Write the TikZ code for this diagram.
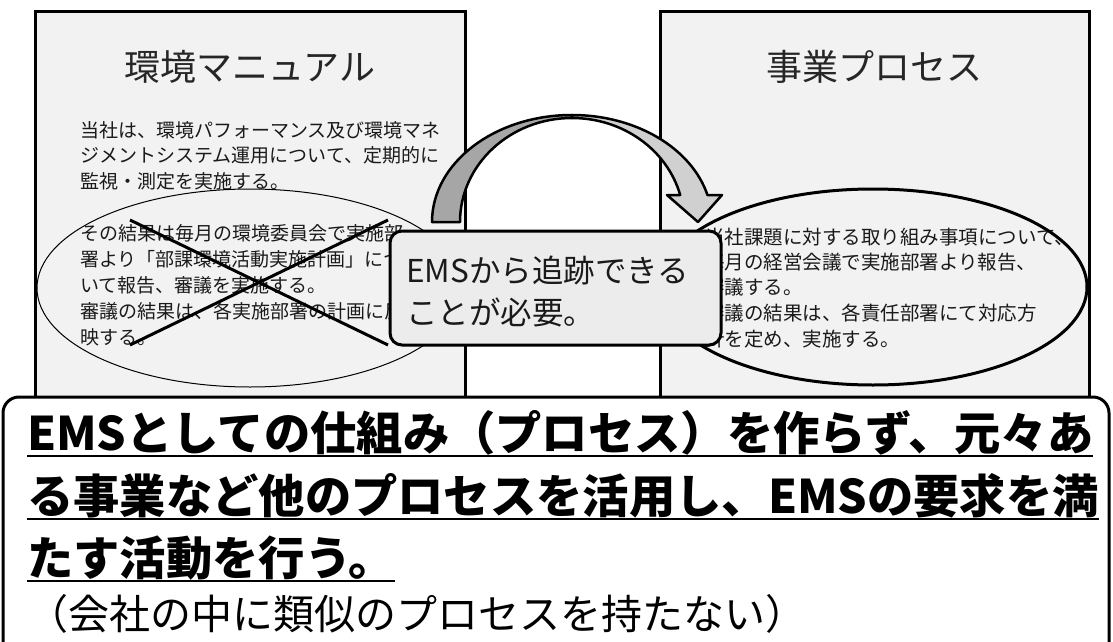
\documentclass[tikz,border=0pt]{standalone}
\usepackage{fontspec}
\setmainfont{Noto Sans CJK JP}
\definecolor{boxfill}{HTML}{F2F2F2}
\definecolor{callfill}{HTML}{ECECEC}
\definecolor{arrdark}{HTML}{A6A6A6}
\definecolor{arrlight}{HTML}{D0D0D0}
\definecolor{txt}{HTML}{1A1A1A}
\definecolor{titlec}{HTML}{262626}
\newsavebox\ulbox
\newcommand\ulin[1]{\sbox\ulbox{#1}\rlap{\rule[-7.4pt]{\wd\ulbox}{2.8pt}}\usebox\ulbox}
\tikzset{
  docbox/.style={draw=black, line width=3pt, fill=boxfill},
  titletext/.style={font=\fontsize{36}{40}\selectfont, text=titlec, inner sep=0pt, anchor=center},
  bodyL/.style={font=\fontsize{19}{24}\selectfont, text=txt, inner sep=0pt, anchor=west},
  bodyR/.style={font=\fontsize{19.5}{24}\selectfont, text=txt, inner sep=0pt, anchor=west},
  calltext/.style={font=\fontsize{31.5}{36}\selectfont, text=txt, inner sep=0pt, anchor=west},
  boldline/.style={font=\fontsize{46.3}{50}\selectfont\bfseries, text=black, inner sep=0pt, anchor=base west},
  noteline/.style={font=\fontsize{41}{46}\selectfont, text=black, inner sep=0pt, anchor=base west},
  arrowpart/.style={draw=black, line width=2.5pt, line join=round},
}
\begin{document}
\begin{tikzpicture}[x=1pt,y=-1pt]
\clip (0,0) rectangle (1113,642);
\fill[white] (0,0) rectangle (1113,642);
% document boxes
\draw[docbox] (35,12) rectangle (465,440);
\draw[docbox] (660,12) rectangle (1089,440);
% titles
\node[titletext] (t1) at (250,67) {環境マニュアル};
\node[titletext] (t2) at (874,67) {事業プロセス};
% left body
\node[bodyL] (l1) at (80,130) {当社は、環境パフォーマンス及び環境マネ};
\node[bodyL] (l2) at (80,155.5) {ジメントシステム運用について、定期的に};
\node[bodyL] (l3) at (80,181) {監視・測定を実施する。};
\node[bodyL] (l4) at (80,233.5) {その結果は毎月の環境委員会で実施部};
\node[bodyL] (l5) at (80,259.5) {署より「部課環境活動実施計画」につ};
\node[bodyL] (l6) at (80,285.5) {いて報告、審議を実施する。};
\node[bodyL] (l7) at (80,311.5) {審議の結果は、各実施部署の計画に反};
\node[bodyL] (l8) at (80,337) {映する。};
\draw[line width=1pt] (250,288) ellipse [x radius=213, y radius=99];
\draw[line width=3pt] (130,220) -- (388,345);
\draw[line width=3pt] (388,220) -- (130,345);
% right body
\node[bodyR] (r1) at (705,237) {当社課題に対する取り組み事項について、};
\node[bodyR] (r2) at (705,262) {毎月の経営会議で実施部署より報告、};
\node[bodyR] (r3) at (705,287) {審議する。};
\node[bodyR] (r4) at (705,313) {審議の結果は、各責任部署にて対応方};
\node[bodyR] (r5) at (705,339) {針を定め、実施する。};
\draw[line width=3pt] (873,287) ellipse [x radius=214, y radius=98];
% bottom box
\draw[line width=3pt, fill=white, rounded corners=16pt] (3,397) rectangle (1109,720);
% curved arrow
\filldraw[arrowpart, fill=arrdark] (432,222) arc[start angle=180, end angle=270, x radius=140, y radius=107]
  -- (572,118) arc[start angle=270, end angle=180, x radius=112, y radius=104] -- cycle;
\filldraw[arrowpart, fill=arrlight] (572,115) arc[start angle=270, end angle=345.4, x radius=140, y radius=107]
  -- (722,195) -- (698,222) -- (667,195) -- (680.2,195)
  arc[start angle=344.95, end angle=270, x radius=112, y radius=104] -- cycle;
% callout
\draw[line width=3pt, fill=callfill, rounded corners=12pt] (390,231) rectangle (721,345);
\node[calltext] (c1) at (406,270) {EMSから追跡できる};
\node[calltext] (c2) at (406,312) {ことが必要。};
% bottom text
\node[boldline] (b1) at (27,450) {\ulin{EMSとしての仕組み（プロセス）を作らず、元々あ}};
\node[boldline] (b2) at (27,513) {\ulin{る事業など他のプロセスを活用し、EMSの要求を満}};
\node[boldline] (b3) at (27,575) {\ulin{たす活動を行う。}};
\node[noteline] (b4) at (27,629) {（会社の中に類似のプロセスを持たない）};
\end{tikzpicture}
\end{document}
